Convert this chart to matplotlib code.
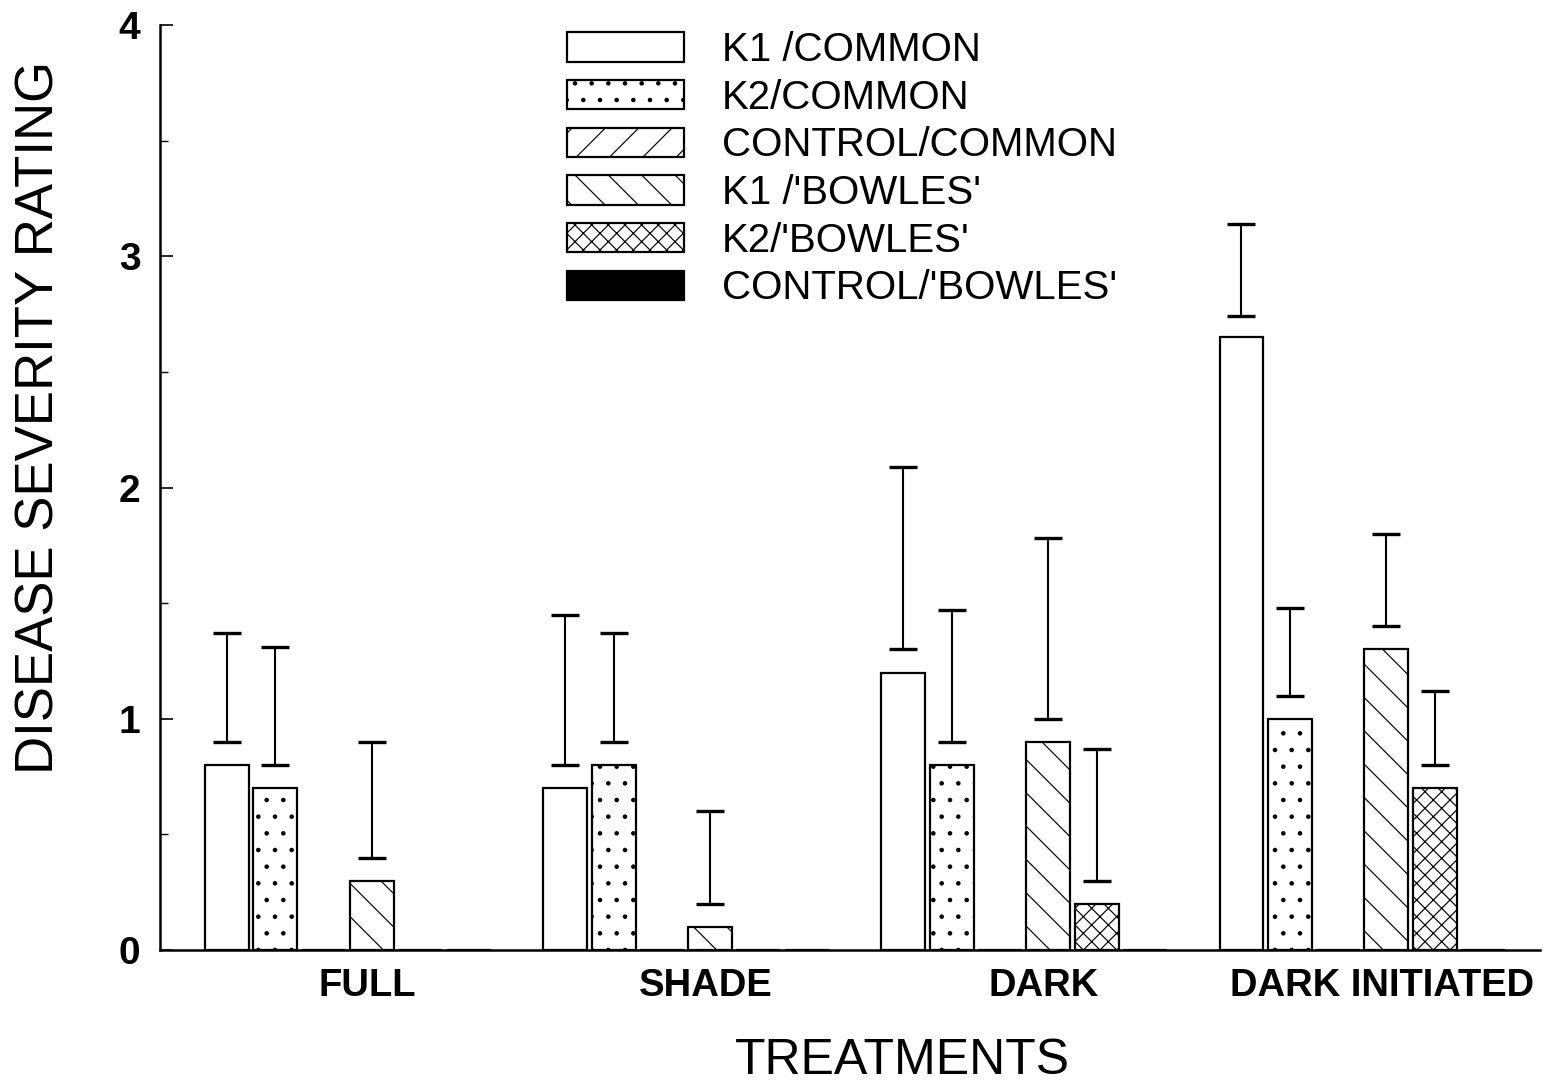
import numpy as np
import matplotlib.pyplot as plt
from matplotlib.patches import Patch

plt.rcParams['font.family'] = ['Liberation Sans', 'DejaVu Sans']
plt.rcParams['hatch.linewidth'] = 0.85

# Data
treatments = ["FULL", "SHADE", "DARK", "DARK INITIATED"]
series = ["K1 /COMMON", "K2/COMMON", "CONTROL/COMMON",
          "K1 /'BOWLES'", "K2/'BOWLES'", "CONTROL/'BOWLES'"]

k1_common = [0.8, 0.7, 1.2, 2.65]
k2_common = [0.7, 0.8, 0.8, 1.0]
control_common = [0, 0, 0, 0]
k1_bowles = [0.3, 0.1, 0.9, 1.3]
k2_bowles = [0, 0, 0.2, 0.7]
control_bowles = [0, 0, 0, 0]

# error bars (lower cap, upper cap), nan = no bar drawn
k1_common_lo = [0.9, 0.8, 1.3, 2.74]
k1_common_hi = [1.37, 1.45, 2.09, 3.14]
k2_common_lo = [0.8, 0.9, 0.9, 1.1]
k2_common_hi = [1.31, 1.37, 1.47, 1.48]
k1_bowles_lo = [0.4, 0.2, 1.0, 1.4]
k1_bowles_hi = [0.9, 0.6, 1.78, 1.8]
k2_bowles_lo = [np.nan, np.nan, 0.3, 0.8]
k2_bowles_hi = [np.nan, np.nan, 0.87, 1.12]

means = [k1_common, k2_common, control_common, k1_bowles, k2_bowles, control_bowles]
err_lo = [k1_common_lo, k2_common_lo, None, k1_bowles_lo, k2_bowles_lo, None]
err_hi = [k1_common_hi, k2_common_hi, None, k1_bowles_hi, k2_bowles_hi, None]

hatches = ['', '.', '/', '\\', 'xx', '']
faces = ['white', 'white', 'white', 'white', 'white', 'black']

fig = plt.figure(figsize=(15.56, 10.89), dpi=100)
ax = fig.add_axes([160 / 1556, 139 / 1089, 1380 / 1556, 925 / 1089])

group_step = 7
width = 0.91
group_x = np.arange(len(treatments)) * group_step

for j in range(len(series)):
    x = group_x + j
    ax.bar(x, means[j], width=width, color=faces[j], edgecolor='black',
           hatch=hatches[j], linewidth=1.6, zorder=2)
    if err_lo[j] is not None:
        lo = np.array(err_lo[j])
        hi = np.array(err_hi[j])
        ok = ~np.isnan(lo)
        ax.errorbar(x[ok], (lo[ok] + hi[ok]) / 2, yerr=(hi[ok] - lo[ok]) / 2,
                    fmt='none', ecolor='black', elinewidth=1.5,
                    capsize=10, capthick=2.4, zorder=3)

ax.set_xlim(-1.39, 27.18)
ax.set_ylim(0, 4)

ax.spines['top'].set_visible(False)
ax.spines['right'].set_visible(False)
ax.spines['left'].set_linewidth(1.8)
ax.spines['bottom'].set_linewidth(1.8)

ax.set_yticks([0, 1, 2, 3, 4])
ax.set_yticks([0.5, 1.5, 2.5, 3.5], minor=True)
ax.tick_params(axis='y', which='major', direction='in', length=9, width=1.2,
               labelsize=28, pad=14)
ax.tick_params(axis='y', which='minor', direction='in', length=6, width=1.0)
for lab in ax.get_yticklabels():
    lab.set_fontweight('bold')

ax.set_xticks(group_x + 2.9)
ax.set_xticklabels(treatments, fontsize=27.5, fontweight='bold')
ax.tick_params(axis='x', length=0, pad=13)

fig.text(40 / 1556, 1 - 417 / 1089, "DISEASE SEVERITY RATING", rotation=90,
         ha='center', va='center', fontsize=38)
fig.text(902 / 1556, 1 - 1061 / 1089, "TREATMENTS", ha='center', va='center',
         fontsize=36)

handles = [Patch(facecolor=faces[j], edgecolor='black', hatch=hatches[j],
                 linewidth=1.6) for j in range(len(series))]
fig.legend(handles, series, loc='upper left',
           bbox_to_anchor=(567 / 1556, 1 - 31 / 1089), frameon=False,
           fontsize=29, handlelength=2.9, handleheight=0.75,
           handletextpad=0.95, labelspacing=0.24, borderpad=0, borderaxespad=0)

fig.savefig("out.png", dpi=100, facecolor='white')
